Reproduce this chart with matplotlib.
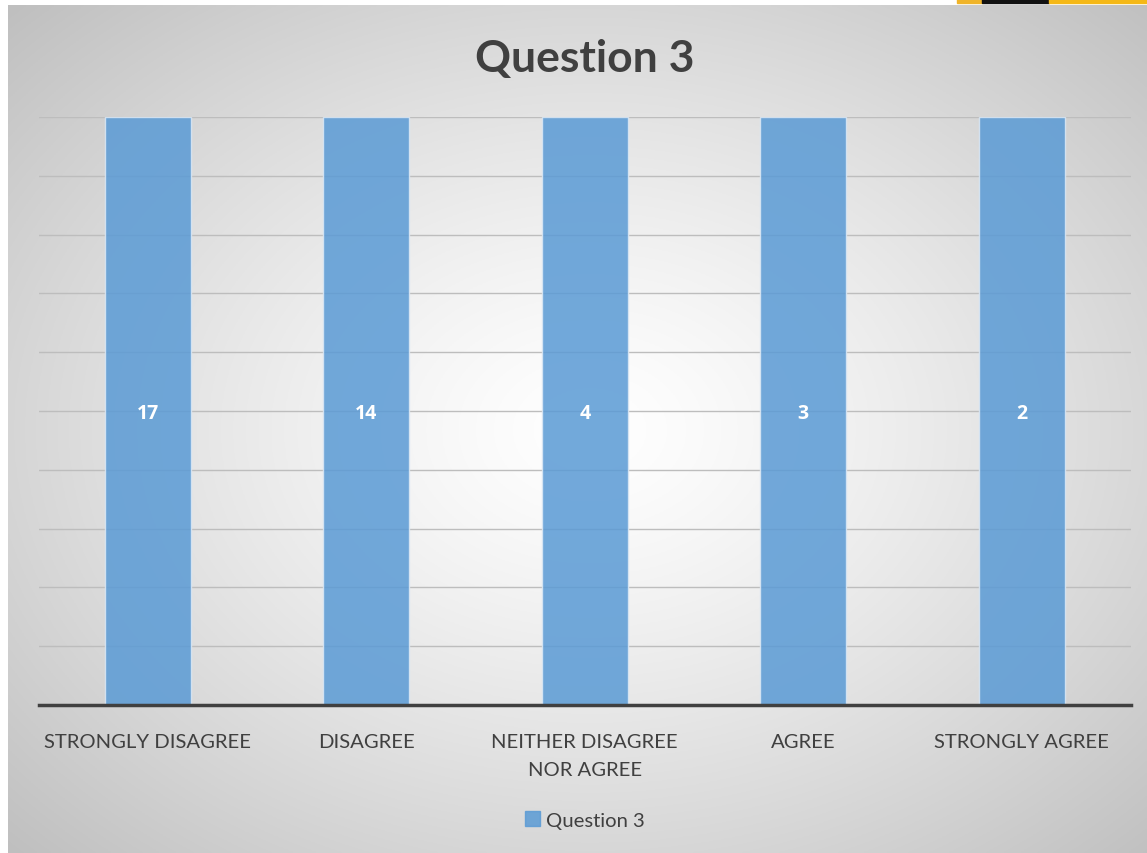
import matplotlib.pyplot as plt
import matplotlib.patches as mpatches
import numpy as np

# chart data
categories = ['STRONGLY DISAGREE', 'DISAGREE', 'NEITHER DISAGREE\nNOR AGREE', 'AGREE', 'STRONGLY AGREE']
counts = [17, 14, 4, 3, 2]
series_name = 'Question 3'
title = 'Question 3'

# single series in a 100% stacked column -> every column is the full share
shares = [c / c * 100 for c in counts]

W, H = 1147, 854
fig = plt.figure(figsize=(W / 100, H / 100), dpi=100)
plt.rcParams['font.family'] = ['Lato', 'DejaVu Sans']

# radial gradient background for the chart area
bg = fig.add_axes([8 / W, 0, 1 - 8 / W, 1 - 6 / H], zorder=-2)
yy, xx = np.mgrid[0:400, 0:500]
cx, cy = 500 * 0.51, 400 * 0.50
r = np.sqrt(((xx - cx) / 500) ** 2 + ((yy - cy) / 400) ** 2) / 0.71
g = 1.0 - 0.25 * np.clip(r, 0, 1) ** 1.3
bg.imshow(np.dstack([g, g, g]), aspect='auto', extent=[0, 1, 0, 1])
bg.axis('off')

# top right strip
fig.patches.append(mpatches.Rectangle((957 / W, 1 - 4 / H), 25 / W, 4 / H, color='#f0b429', transform=fig.transFigure))
fig.patches.append(mpatches.Rectangle((982 / W, 1 - 4 / H), 67 / W, 4 / H, color='#111111', transform=fig.transFigure))
fig.patches.append(mpatches.Rectangle((1049 / W, 1 - 4 / H), 98 / W, 4 / H, color='#f5b816', transform=fig.transFigure))

ax = fig.add_axes([38.5 / W, 1 - 706 / H, (1131 - 38.5) / W, (706 - 118) / H])
ax.patch.set_alpha(0)
x = np.arange(len(categories))
bars = ax.bar(x, shares, width=0.395, color='#5B9BD5', alpha=0.86,
              edgecolor='#dbe8f5', linewidth=1.0, zorder=3)

for xi, c, s in zip(x, counts, shares):
    ax.text(xi, s / 2, str(c), ha='center', va='center_baseline', color='white',
            fontsize=14, fontweight='bold', family=['Open Sans', 'DejaVu Sans'], zorder=4)

ax.set_xlim(-0.5, len(categories) - 0.5)
ax.set_ylim(0, 100)
ax.set_yticks(np.arange(0, 101, 10))
ax.yaxis.grid(True, color='#bdbdbd', linewidth=1, zorder=0)
ax.tick_params(axis='y', left=False, labelleft=False)
ax.tick_params(axis='x', bottom=False, pad=17)
ax.set_xticks(x)
ax.set_xticklabels(categories, fontsize=14.6, color='#404040', linespacing=1.75)
for side in ['top', 'right', 'left']:
    ax.spines[side].set_visible(False)
ax.spines['bottom'].set_color('#404040')
ax.spines['bottom'].set_linewidth(2.5)
ax.spines['bottom'].set_zorder(5)

fig.text(0.51, 1 - 59 / H, title, ha='center', va='center', fontsize=32,
         fontweight='bold', color='#404040')

handle = mpatches.Patch(color='#5B9BD5', alpha=0.86, label=series_name)
fig.legend(handles=[handle], loc='center', bbox_to_anchor=(0.51, 1 - 821 / H),
           frameon=False, fontsize=14.6, handlelength=0.7, handleheight=0.7,
           handletextpad=0.3, labelcolor='#404040')

fig.savefig('out.png', dpi=100)
